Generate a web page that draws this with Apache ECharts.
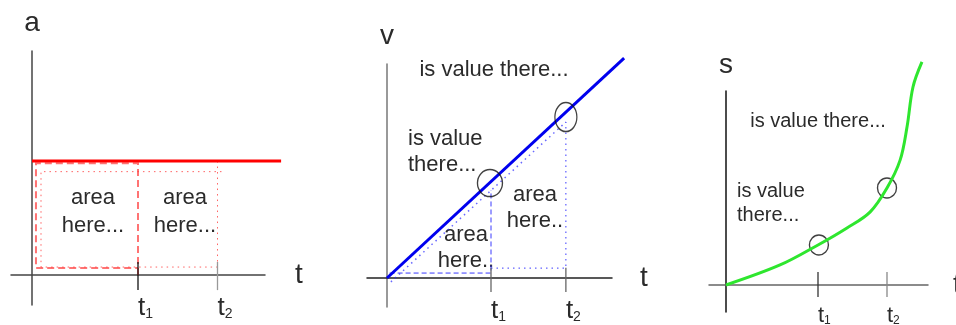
<!DOCTYPE html>
<html>
<head>
<meta charset="utf-8">
<style>
  html, body { margin: 0; padding: 0; background: #fff; }
  #chart { width: 956px; height: 325px; }
</style>
<script src="https://cdn.jsdelivr.net/npm/echarts@6.0.0/dist/echarts.min.js"></script>
</head>
<body>
<div id="chart"></div>
<script>
// t1 / t2 positions on each time axis
const accTicks = [4, 7];
const velTicks = [4, 6.88];
const posTicks = [4, 7];
const tickNames = ['1', '2'];

// a-t: constant acceleration and the two "area" boxes
const accLine = [[0, 4.3], [9.4, 4.3]];
const accBoxDashed = [[4.0, 0], [4.0, 4.22], [0.15, 4.22], [0.15, 0.26], [4.0, 0.26]];
const accBoxDotted = [[7.15, 3.9], [0.34, 3.9], [0.34, 0.3], [7.15, 0.3]];
const accT2Dotted = [[7.0, 4.3], [7.0, 0]];

// v-t: straight line, triangle + trapezoid under it
const velLine = [[0, 0], [9.12, 8.46]];
const velChord = [[0.15, -0.15], [6.88, 6.0]];
const velDashed = [[0.1, 0.19], [4.0, 0.19], [4.0, 3.38]];
const velDotted = [[4.0, 0.38], [6.88, 0.38], [6.88, 6.0]];
const velRings = [[3.96, 3.65], [6.88, 6.19]];

// s-t: parabola-ish curve
const posCurve = [[0, 0], [2.35, 0.87], [4, 1.74], [5.26, 2.48], [6.26, 3.17], [7, 4.22],
  [7.57, 5.43], [7.87, 6.87], [8.13, 8.61], [8.52, 9.7]];
const posRings = [[4.04, 1.74], [7.0, 4.22]];

const font = '"Liberation Sans", Arial, sans-serif';
const ink = '#2b2b2b';

// pixel layout of each panel: grid box, origin, px per unit
const panels = [
  { left: 11, top: 51, right: 265, bottom: 305, ox: 32, oy: 275, k: 26.5 },
  { left: 367, top: 64, right: 612, bottom: 307, ox: 387, oy: 278, k: 26 },
  { left: 709, top: 91, right: 928, bottom: 312, ox: 726, oy: 285, k: 23 },
];

const grids = panels.map(p => ({
  left: p.left, top: p.top, width: p.right - p.left, height: p.bottom - p.top,
  outerBoundsMode: 'none', containLabel: false,
}));

// labels hang off the grid bottom, so pull them back up to the zero line
const xAxisOf = (i, ticks, color, tSize, sSize, gap, drop) => {
  const p = panels[i];
  return {
    type: 'value', gridIndex: i,
    min: (p.left - p.ox) / p.k, max: (p.right - p.ox) / p.k,
    axisLine: { onZero: true, lineStyle: { color, width: 1.5 } },
    axisTick: { show: false },
    splitLine: { show: false },
    axisLabel: {
      show: true,
      customValues: ticks,
      align: 'left',
      verticalAlign: 'top',
      margin: drop - (p.bottom - p.oy),
      formatter: v => `{t|t}{s|${tickNames[ticks.indexOf(v)]}}`,
      rich: {
        t: { fontSize: tSize, color: ink, fontFamily: font },
        s: { fontSize: sSize, color: ink, fontFamily: font, verticalAlign: 'bottom' },
      },
    },
    name: 't', nameLocation: 'end', nameGap: gap,
    nameTextStyle: { fontSize: 28, color: ink, fontFamily: font },
  };
};

const yAxisOf = (i, name, color, gap) => {
  const p = panels[i];
  return {
    type: 'value', gridIndex: i,
    min: (p.oy - p.bottom) / p.k, max: (p.oy - p.top) / p.k,
    axisLine: { onZero: true, lineStyle: { color, width: 1.5 } },
    axisTick: { show: false },
    axisLabel: { show: false },
    splitLine: { show: false },
    name, nameLocation: 'end', nameGap: gap,
    nameTextStyle: { fontSize: 28, color: ink, fontFamily: font },
  };
};

// straight strokes: lines series, so nothing gets clipped at the grid edge
const sketch = (i, coords, color, width, type) => ({
  type: 'lines', coordinateSystem: 'cartesian2d', xAxisIndex: i, yAxisIndex: i,
  polyline: true, silent: true, clip: false,
  data: [{ coords }],
  lineStyle: { color, width, type: type || 'solid', opacity: 1, curveness: 0 },
});

const tickSeries = (i, xs, lo, hi, colors) => xs.map((x, j) =>
  sketch(i, [[x, lo], [x, hi]], colors[j], 1.3));

const rings = (i, data, sizes) => ({
  type: 'scatter', xAxisIndex: i, yAxisIndex: i, silent: true, clip: false,
  data: data.map((d, j) => ({ value: d, symbolSize: sizes[j] })),
  symbol: 'circle',
  itemStyle: { color: 'rgba(0,0,0,0)', borderColor: '#111', borderWidth: 1.4 },
});

const note = (text, x, y, size, lh, align) => ({
  type: 'text', x, y, silent: true,
  style: {
    text, fill: ink, fontSize: size, fontFamily: font, lineHeight: lh,
    align: align || 'center', verticalAlign: 'middle',
    textAlign: align || 'center', textVerticalAlign: 'middle',
  },
});

const option = {
  animation: false,
  grid: grids,
  xAxis: [
    xAxisOf(0, accTicks, '#444', 26, 14, 30, 20),
    xAxisOf(1, velTicks, '#222', 26, 14, 28, 20),
    xAxisOf(2, posTicks, '#666', 22, 12, 25, 20),
  ],
  yAxis: [
    yAxisOf(0, 'a', '#444', 14),
    yAxisOf(1, 'v', '#777', 14),
    yAxisOf(2, 's', '#111', 12),
  ],
  series: [
    sketch(0, accBoxDashed, 'rgba(255,40,40,0.65)', 2, [7, 4]),
    sketch(0, accBoxDotted, 'rgba(255,60,60,0.8)', 1, [1.5, 4]),
    sketch(0, accT2Dotted, 'rgba(255,60,60,0.8)', 1, [1.5, 4]),
    sketch(0, accLine, '#ff0000', 3),
    ...tickSeries(0, accTicks, 0.49, -0.57, ['#111', '#999']),

    sketch(1, velChord, 'rgba(40,40,255,0.7)', 1.5, [1.5, 4]),
    sketch(1, velDashed, '#3a3aff', 1, [5, 3]),
    sketch(1, velDotted, '#3a3aff', 1, [1.5, 4]),
    sketch(1, velLine, '#0000ee', 3),
    ...tickSeries(1, velTicks, 0.39, -0.54, ['#666', '#666']),
    rings(1, velRings, [[25, 27], [22, 29]]),

    {
      type: 'line', xAxisIndex: 2, yAxisIndex: 2, data: posCurve,
      symbol: 'none', silent: true, clip: false, smooth: 0.35,
      lineStyle: { color: '#2ee62e', width: 3 },
    },
    ...tickSeries(2, posTicks, 0.57, -0.52, ['#333', '#888']),
    rings(2, posRings, [[19, 20], [19, 20]]),
  ],
  graphic: [
    note('area\nhere...', 93, 212, 22, 28),
    note('area\nhere...', 185, 212, 22, 28),
    note('is value there...', 494, 70, 22, 26),
    note('is value\nthere...', 408, 152, 22, 26, 'left'),
    note('area\nhere..', 535, 208, 22, 26),
    note('area\nhere..', 466, 248, 22, 26),
    note('is value there...', 818, 121, 20, 24),
    note('is value\nthere...', 737, 203, 20, 24, 'left'),
  ],
};

const chart = echarts.init(document.getElementById('chart'), null, { renderer: 'canvas' });
chart.setOption(option);
</script>
</body>
</html>
